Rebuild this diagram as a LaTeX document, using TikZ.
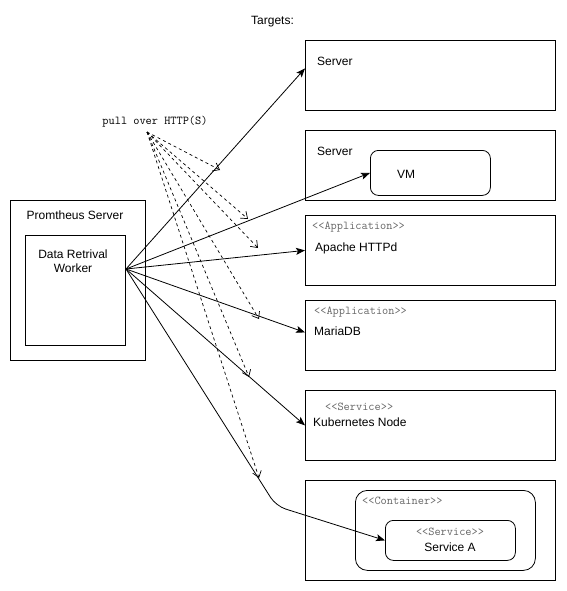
\documentclass[tikz,border=0pt]{standalone}
\usepackage{fontspec}
\setmainfont{Liberation Sans}
\usetikzlibrary{arrows.meta,positioning,calc}
\tikzset{
  frame/.style={draw,rectangle,anchor=north west,inner sep=0pt,line width=.8pt},
  tgt/.style={frame,minimum width=250pt,minimum height=70pt},
  rbox/.style={frame,rounded corners=8pt},
  txt/.style={font=\fontsize{12}{14}\selectfont,inner sep=0pt},
  stereo/.style={font=\ttfamily\fontsize{12}{14}\selectfont,text=black!60,inner sep=0pt},
  scrape/.style={line width=.8pt,-{Stealth[length=9pt,width=7pt,inset=2pt]}},
  poll/.style={line width=.7pt,dash pattern=on 3pt off 3pt,-{Straight Barb[length=6pt,width=9pt]}},
}
\begin{document}
\begin{tikzpicture}[x=1pt,y=-1pt]
  \useasboundingbox (0,0) rectangle (566,591);
  \node[txt,anchor=west] (tlab) at (251,22) {Targets:};

  % prometheus side
  \node[frame,minimum width=135pt,minimum height=160pt] (prom) at (10,200) {};
  \node[frame,minimum width=100pt,minimum height=110pt] (worker) at (25,235) {};
  \node[txt] (promlab) at (75,215) {Promtheus Server};
  \node[txt,align=center] (worklab) at (73,261) {Data Retrival\\Worker};
  \coordinate (hub) at (126,269);

  % targets
  \node[tgt] (srv1) at (305,40) {};
  \node[tgt] (srv2) at (305,130) {};
  \node[tgt] (apache) at (305,215) {};
  \node[tgt] (maria) at (305,300) {};
  \node[tgt] (kube) at (305,390) {};
  \node[tgt,minimum height=100pt] (pod) at (305,480) {};
  \node[rbox,minimum width=120pt,minimum height=45pt] (vm) at (370,150) {};
  \node[rbox,rounded corners=12pt,minimum width=180pt,minimum height=80pt] (cont) at (355,490) {};
  \node[rbox,minimum width=130pt,minimum height=40pt] (svca) at (385,520) {};

  \node[txt,anchor=west] (srv1lab) at (317,61) {Server};
  \node[txt,anchor=west] (srv2lab) at (317,151) {Server};
  \node[txt] (vmlab) at (406,174) {VM};
  \node[stereo,anchor=west] (apst) at (312,227) {<<Application>>};
  \node[txt,anchor=west] (aplab) at (315,248) {Apache HTTPd};
  \node[stereo,anchor=west] (mast) at (314,312) {<<Application>>};
  \node[txt,anchor=west] (malab) at (314,331) {MariaDB};
  \node[stereo,anchor=west] (kust) at (325,407) {<<Service>>};
  \node[txt,anchor=west] (kulab) at (313,422) {Kubernetes Node};
  \node[stereo,anchor=west] (cost) at (362,501) {<<Container>>};
  \node[stereo] (sast) at (450,532) {<<Service>>};
  \node[txt] (salab) at (450,547) {Service A};

  % scraping
  \draw[scrape] (hub) -- ([yshift=7pt]srv1.west);
  \draw[scrape] (hub) -- (vm.west);
  \draw[scrape] (hub) -- (apache.west);
  \draw[scrape] (hub) -- ([yshift=3pt]maria.west);
  \draw[scrape] (hub) -- (kube.west);
  \draw[scrape,rounded corners=10pt] (hub) -- (276,506) -- (svca.west);

  % pull label
  \node[font=\ttfamily\fontsize{12}{14}\selectfont,inner sep=0pt] (pulllab) at (155,122) {pull over HTTP(S)};
  \coordinate (src) at (147,132);
  \foreach \x/\y [count=\i] in {220/170,248/219,258/248,259/319,249/377,259/478}
    \coordinate (p\i) at (\x,\y);
  \foreach \i in {1,...,6}
    \draw[poll] (src) -- (p\i);
\end{tikzpicture}
\end{document}
